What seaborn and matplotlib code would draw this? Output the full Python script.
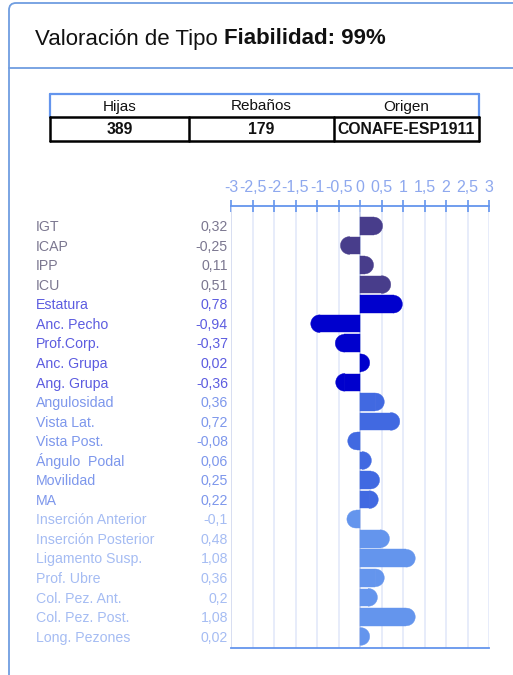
import numpy as np
import pandas as pd
import matplotlib
matplotlib.use("Agg")
import matplotlib.pyplot as plt
import matplotlib.transforms as mtrans
from matplotlib.patches import Polygon, FancyBboxPatch
import seaborn as sns

# ---------------- data ----------------
title_normal = "Valoración de Tipo "
title_bold = "Fiabilidad: 99%"

table_headers = ["Hijas", "Rebaños", "Origen"]
table_values = ["389", "179", "CONAFE-ESP1911"]

traits = ["IGT", "ICAP", "IPP", "ICU",
          "Estatura", "Anc. Pecho", "Prof.Corp.", "Anc. Grupa", "Ang. Grupa",
          "Angulosidad", "Vista Lat.", "Vista Post.", "Ángulo  Podal", "Movilidad", "MA",
          "Inserción Anterior", "Inserción Posterior", "Ligamento Susp.", "Prof. Ubre",
          "Col. Pez. Ant.", "Col. Pez. Post.", "Long. Pezones"]
values = [0.32, -0.25, 0.11, 0.51,
          0.78, -0.94, -0.37, 0.02, -0.36,
          0.36, 0.72, -0.08, 0.06, 0.25, 0.22,
          -0.1, 0.48, 1.08, 0.36, 0.2, 1.08, 0.02]
groups = (["Índices"] * 4 + ["Estructura"] * 5 + ["Patas"] * 6 + ["Ubre"] * 7)
group_colors = {"Índices": "#483D8B", "Estructura": "#0000CD",
                "Patas": "#4169E1", "Ubre": "#6495ED"}
label_colors = {"Índices": "#7b7790", "Estructura": "#5c5ce0",
                "Patas": "#7d97ec", "Ubre": "#a5bcf3"}
xticks = [-3, -2.5, -2, -1.5, -1, -0.5, 0, 0.5, 1, 1.5, 2, 2.5, 3]

df = pd.DataFrame({"trait": traits, "value": values, "group": groups})

# ---------------- style ----------------
sns.set_theme(style="white")
plt.rcParams["font.family"] = ["Liberation Sans", "DejaVu Sans"]

W, H = 513, 675
fig = plt.figure(figsize=(W / 100, H / 100), dpi=100)

# background / decoration axes in pixel coordinates
bg = fig.add_axes([0, 0, 1, 1], zorder=0)
bg.set_xlim(0, W)
bg.set_ylim(H, 0)
bg.axis("off")

panel_col = "#6f9de0"
bg.add_patch(FancyBboxPatch((9, 3), 560, 700, boxstyle="round,pad=0,rounding_size=7",
                            fc="white", ec=panel_col, lw=1.3))
bg.plot([9, W], [68, 68], color=panel_col, lw=1.3)

# title
t1 = bg.text(35, 39, title_normal, fontsize=16, color="#111111", va="center", ha="left")
fig.canvas.draw()
r = fig.canvas.get_renderer()
bb = t1.get_window_extent(r)
x_end = bb.x1
bg.text(x_end, 39, title_bold, fontsize=16, color="#111111", va="center",
        ha="left", fontweight="bold")

# table
tx0, tx1 = 50, 479
col_edges = [50, 189, 334, 479]
hy0, hy1, by1 = 94, 117, 141
hdr_col = "#6495ED"
bg.plot([tx0, tx1], [hy0, hy0], color=hdr_col, lw=1.6)
bg.plot([tx0, tx0], [hy0, hy1], color=hdr_col, lw=1.6)
bg.plot([tx1, tx1], [hy0, hy1], color=hdr_col, lw=1.6)
for xe in col_edges:
    bg.plot([xe, xe], [hy1, by1], color="black", lw=1.8)
bg.plot([tx0, tx1], [hy1, hy1], color="black", lw=1.8)
bg.plot([tx0, tx1], [by1, by1], color="black", lw=1.8)
for i, (h, v) in enumerate(zip(table_headers, table_values)):
    cx = (col_edges[i] + col_edges[i + 1]) / 2
    bg.text(cx, (hy0 + hy1) / 2 + 1, h, fontsize=11, color="#111111", ha="center", va="center")
    bg.text(cx, (hy1 + by1) / 2 + 1, v, fontsize=11.3, color="#111111", ha="center",
            va="center", fontweight="bold")

# ---------------- chart ----------------
ax_left, ax_right = 231, 489
ax_top, ax_bot = 206, 648
ax = fig.add_axes([ax_left / W, 1 - ax_bot / H, (ax_right - ax_left) / W, (ax_bot - ax_top) / H],
                  zorder=1)
ax.patch.set_alpha(0)
ax.set_axisbelow(True)

bar_h = 0.9
sns.barplot(data=df, x="value", y="trait", hue="group", palette=group_colors,
            dodge=False, orient="h", width=bar_h, saturation=1, legend=False,
            linewidth=0, ax=ax)
for p in ax.patches:
    p.set_zorder(3)
    p.set_edgecolor(p.get_facecolor())
    p.set_linewidth(0.3)

ax.set_xlim(-3, 3)
ax.set_ylim(21.59, -1.02)

# rounded ends of the bars (half ellipses of bar height)
px_per_unit = (ax_right - ax_left) / 6.0
row_px = (ax_bot - ax_top) / (21.59 + 1.02)
rx = (bar_h / 2) * row_px / px_per_unit
ry = bar_h / 2
tt = np.linspace(-np.pi / 2, np.pi / 2, 40)
for i, (v, g) in enumerate(zip(values, groups)):
    s = 1 if v >= 0 else -1
    xs = np.concatenate([[v - s * 0.01], v + s * rx * np.cos(tt), [v - s * 0.01]])
    ys = np.concatenate([[i - ry], i + ry * np.sin(tt), [i + ry]])
    ax.add_patch(Polygon(np.column_stack([xs, ys]), closed=True, fc=group_colors[g],
                         ec=group_colors[g], lw=0.3, zorder=3))

# grid
ax.set_xticks(xticks)
ax.set_xticklabels([f"{t:g}".replace(".", ",") for t in xticks])
ax.grid(axis="x", color="#e3e9fa", lw=1.2)
ax.grid(axis="y", visible=False)
ax.axvline(0, color="#c7d2ef", lw=1.2, zorder=1)
ax.axvline(-3, color="#d5dcf0", lw=1.2, zorder=1)
ax.xaxis.tick_top()
ax.tick_params(axis="x", top=True, bottom=False, direction="inout", length=8,
               width=1.2, color="#6495ED", labelcolor="#8ea8ee", labelsize=11.5, pad=4)
ax.set_yticks([])
ax.set_xlabel("")
ax.set_ylabel("")
for side in ["left", "right"]:
    ax.spines[side].set_visible(False)
for side in ["top", "bottom"]:
    ax.spines[side].set_visible(True)
    ax.spines[side].set_color("#6495ED")
    ax.spines[side].set_linewidth(1.3)
    ax.spines[side].set_zorder(4)

# row labels and values (baseline aligned so accents do not shift rows)
base_off = mtrans.offset_copy(ax.transData, fig=fig, x=0, y=-5.2, units="dots")
trans = mtrans.blended_transform_factory(fig.transFigure, base_off)
for i, (name, v, g) in enumerate(zip(traits, values, groups)):
    c = label_colors[g]
    ax.text(36 / W, i, name, transform=trans, ha="left", va="baseline",
            fontsize=10.2, color=c, clip_on=False)
    ax.text(228 / W, i, f"{v:g}".replace(".", ","), transform=trans, ha="right",
            va="baseline", fontsize=10.2, color=c, clip_on=False)

fig.savefig("out.png", dpi=100)
